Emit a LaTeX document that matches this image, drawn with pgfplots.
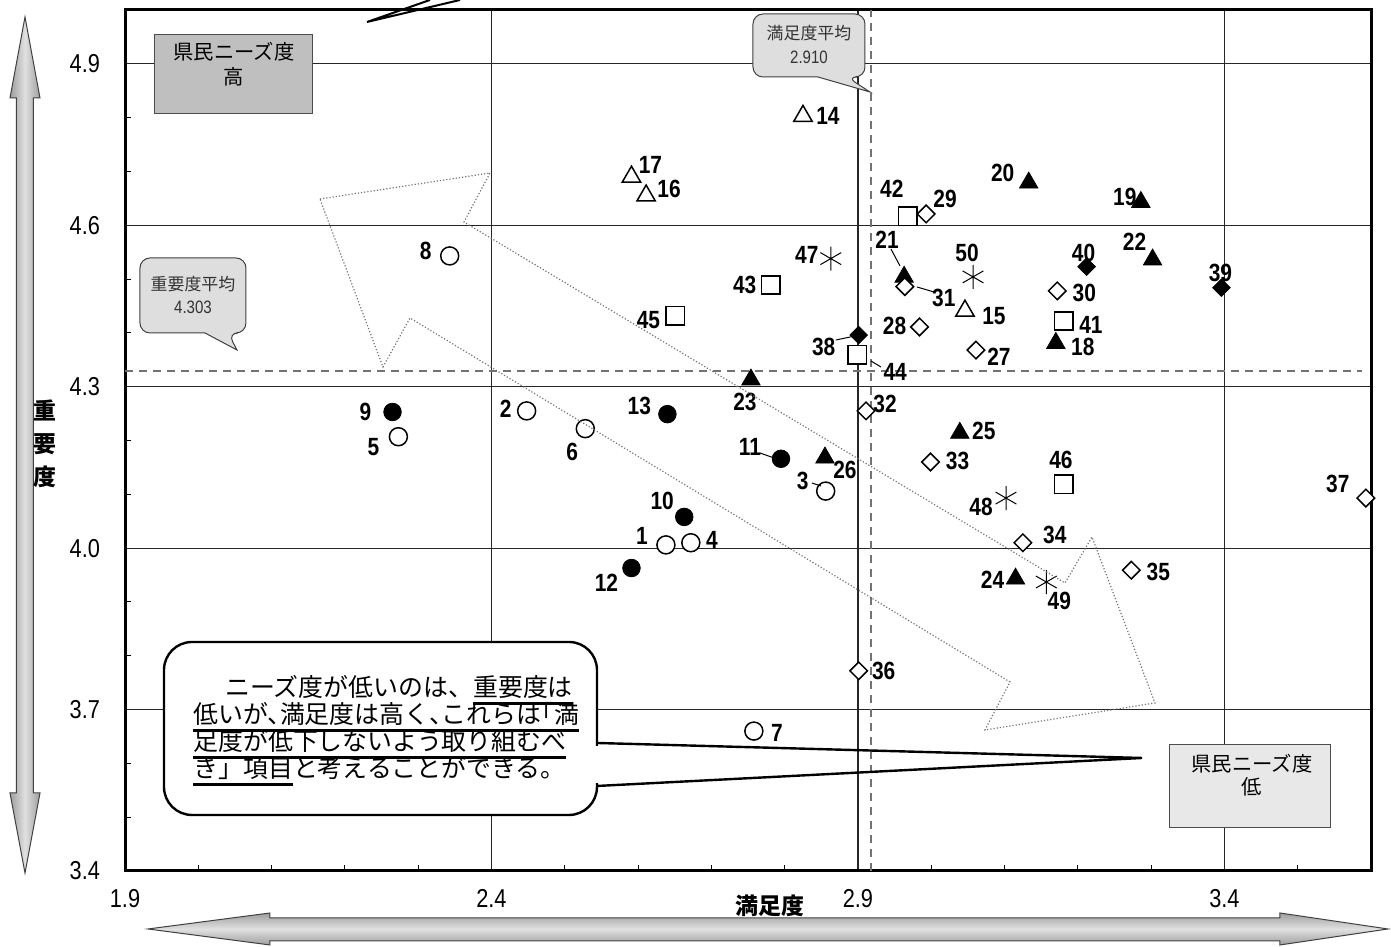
\documentclass[border=0pt]{standalone}
\usepackage{pgfplots}
\pgfplotsset{compat=1.18}
\usepackage{pgfplotstable}
\usepackage{fontspec}
\setmainfont{Liberation Sans}
\newfontfamily\nar[FakeStretch=0.84]{Liberation Sans}
\newfontfamily\jp{Noto Sans CJK JP}
\newfontfamily\jph[RawFeature=+halt]{Noto Sans CJK JP}
\newcommand\ul[1]{\vtop{\hbox{#1}\kern1.6bp\hrule height 1.2bp}}

% columns: x y label, then label offset dx dy in px (dy up)
\pgfplotstableread{
x y lab dx dy
2.638 4.006 1 -24 9
2.448 4.255 2 -21 2
2.856 4.106 3 -23 10
2.672 4.010 4 21 3
2.273 4.207 5 -25 -10
2.528 4.222 6 -13 -23
2.758 3.660 7 23 -2
2.343 4.543 8 -24 5
}\tOC
\pgfplotstableread{
x y lab dx dy
2.265 4.253 9 -27 0
2.663 4.058 10 -22 16
2.795 4.166 11 -31 12
2.591 3.963 12 -25 -15
2.640 4.249 13 -28 8
}\tFC
\pgfplotstableread{
x y lab dx dy
2.825 4.803 14 25 0
3.046 4.441 15 29 -5
2.611 4.655 16 23 7
2.591 4.690 17 19 12
}\tOT
\pgfplotstableread{
x y lab dx dy
3.170 4.381 18 27 -4
3.286 4.643 19 -16 5
3.133 4.679 20 -26 10
2.963 4.504 21 -17 37
3.302 4.536 22 -18 18
2.754 4.313 23 -6 -22
3.115 3.943 24 -23 -1
3.039 4.214 25 24 2
2.855 4.168 26 20 -12
}\tFT
\pgfplotstableread{
x y lab dx dy
3.061 4.368 27 23 -7
2.984 4.411 28 -25 1
2.993 4.621 29 19 15
3.172 4.478 30 27 -2
2.964 4.486 31 39 -11
2.911 4.255 32 19 7
2.999 4.160 33 27 1
3.125 4.010 34 32 8
3.273 3.959 35 27 -2
2.901 3.772 36 25 0
3.593 4.093 37 -28 14
}\tOD
\pgfplotstableread{
x y lab dx dy
2.901 4.396 38 -35 -12
3.396 4.484 39 -1 15
3.212 4.523 40 -3 14
}\tFD
\pgfplotstableread{
x y lab dx dy
3.181 4.422 41 27 -4
2.968 4.617 42 -16 27
2.781 4.489 43 -26 0
2.899 4.359 44 38 -17
2.651 4.432 45 -27 -4
3.181 4.119 46 -3 24
}\tOS
\pgfplotstableread{
x y lab dx dy
2.863 4.538 47 -24 4
3.102 4.093 48 -25 -9
3.157 3.937 49 13 -19
3.057 4.504 50 -6 24
}\tAS

\begin{document}
\begin{tikzpicture}
\path[use as bounding box] (-62.5bp,-38bp) rectangle (633bp,435.5bp);
\begin{axis}[
  scale only axis, width=623bp, height=430.5bp,
  xmin=1.9, xmax=3.6, ymin=3.4, ymax=5.0,
  xtick={1.9,2.4,2.9,3.4}, ytick={3.4,3.7,4.0,4.3,4.6,4.9},
  minor xtick={2.0,2.1,2.2,2.3,2.5,2.6,2.7,2.8,3.0,3.1,3.2,3.3,3.5},
  minor ytick={3.5,3.6,3.8,3.9,4.1,4.2,4.4,4.5,4.7,4.8},
  tick align=inside, tick pos=left,
  major tick length=0pt, minor tick length=3bp,
  minor tick style={black, line width=0.5bp},
  xmajorgrids, ymajorgrids,
  major grid style={black!85, line width=0.6bp},
  axis line style={line width=1.5bp},
  /pgf/number format/assume math mode=true,
  /pgf/number format/.cd, fixed, fixed zerofill, precision=1, /tikz/.cd,
  xticklabel style={font=\nar\fontsize{13}{14}\selectfont, yshift=-5.5bp},
  yticklabel style={font=\nar\fontsize{13}{14}\selectfont, xshift=-9bp},
  clip=false,
  lbl/.style={only marks, point meta=explicit symbolic, nodes near coords,
    visualization depends on={\thisrow{dx}\as\pdx},
    visualization depends on={\thisrow{dy}\as\pdy},
    every node near coord/.append style={anchor=center, inner sep=0pt,
      xshift={0.5bp*\pdx}, yshift={0.5bp*\pdy}, text=black,
      font=\nar\bfseries\fontsize{12.5}{13}\selectfont}},
]
\addplot[black!55, line width=1.1bp, dash pattern=on 4bp off 3bp]
  coordinates {(2.918,3.4) (2.918,5.0)};
\addplot[black!55, line width=1.1bp, dash pattern=on 4bp off 3bp]
  coordinates {(1.9,4.329) (3.588,4.329)};
\addplot[lbl, mark=*, mark size=4.5bp, mark options={draw=black, fill=white, line width=0.75bp}]
  table[x=x, y=y, meta=lab] {\tOC};
\addplot[lbl, mark=*, mark size=4.4bp, mark options={draw=black, fill=black}]
  table[x=x, y=y, meta=lab] {\tFC};
\addplot[lbl, mark=triangle*, mark size=5.3bp, mark options={draw=black, fill=white, line width=0.75bp}]
  table[x=x, y=y, meta=lab] {\tOT};
\addplot[lbl, mark=triangle*, mark size=5.3bp, mark options={draw=black, fill=black}]
  table[x=x, y=y, meta=lab] {\tFT};
\addplot[lbl, mark=square*, mark size=3.1bp, mark options={rotate=45, draw=black, fill=white, line width=0.75bp}]
  table[x=x, y=y, meta=lab] {\tOD};
\addplot[lbl, mark=square*, mark size=3.1bp, mark options={rotate=45, draw=black, fill=black}]
  table[x=x, y=y, meta=lab] {\tFD};
\addplot[lbl, mark=square*, mark size=4.6bp, mark options={draw=black, fill=white, line width=0.75bp}]
  table[x=x, y=y, meta=lab] {\tOS};
\addplot[lbl, mark=asterisk, mark size=6bp, mark options={draw=black, line width=0.5bp}]
  table[x=x, y=y, meta=lab] {\tAS};
\end{axis}

\begin{scope}[x=0.5bp, y=-0.5bp, shift={(-62.5bp,435.5bp)}]
% double arrows outside the axis
\draw[black!75, line width=0.5bp, left color=black!38, right color=black!38, middle color=black!12]
  (25,17) -- (40,98) -- (33.5,98) -- (33.5,793) -- (40,793) -- (25,873)
  -- (10,793) -- (16.5,793) -- (16.5,98) -- (10,98) -- cycle;
\draw[black!75, line width=0.5bp, top color=black!38, bottom color=black!38, middle color=black!12]
  (148,929) -- (270,913) -- (270,918) -- (1280,918) -- (1280,913) -- (1388,929)
  -- (1280,945) -- (1280,941) -- (270,941) -- (270,945) -- cycle;
\node[font=\jp\bfseries\fontsize{11.5}{16.5}\selectfont, align=center] at (45,444) {重\\要\\度};
\node[font=\jp\bfseries\fontsize{11.5}{12}\selectfont] at (770,906) {満足度};
% quadrant boxes
\draw[black!70, line width=0.5bp, fill=black!25] (155,35) rectangle (313,114);
\node[font=\jp\fontsize{10.2}{12}\selectfont] at (234,52) {県民ニーズ度};
\node[font=\jp\fontsize{10.2}{12}\selectfont] at (234,77) {高};
\draw[black!70, line width=0.5bp, fill=black!9] (1170,745) rectangle (1331,828);
\node[font=\jp\fontsize{10.2}{12}\selectfont] at (1252,764) {県民ニーズ度};
\node[font=\jp\fontsize{10.2}{12}\selectfont] at (1252,787) {低};
% mean callouts
\draw[black!75, line width=0.5bp, fill=black!13, rounded corners=5bp]
  (818,77) -- (753,77) -- (753,14) -- (865,14) -- (865,77) -- (847,77)
  [sharp corners] -- (870,92) -- cycle;
\node[text=black!80, font=\jp\fontsize{8.5}{10}\selectfont] at (809,33) {満足度平均};
\node[text=black!80, font=\nar\fontsize{9}{10}\selectfont] at (809,57) {2.910};
\draw[black!75, line width=0.5bp, fill=black!13, rounded corners=5bp]
  (205,333) -- (140,333) -- (140,258) -- (246,258) -- (246,333) -- (228,333)
  [sharp corners] -- (237,350) -- cycle;
\node[text=black!80, font=\jp\fontsize{8.5}{10}\selectfont] at (193,284) {重要度平均};
\node[text=black!80, font=\nar\fontsize{9}{10}\selectfont] at (193,307) {4.303};
% dotted double arrow
\draw[black!55, line width=0.6bp, densely dotted]
  (320,199) -- (490,173) -- (464,222) -- (1065,583) -- (1092,537) -- (1155,703)
  -- (985,730) -- (1010,682) -- (410,318) -- (383,367) -- cycle;
% wedge at the top
\draw[line width=1bp] (430,0) -- (367,22) -- (460,0);
% leader lines
\draw[line width=0.5bp] (812,483) -- (821,486);
\draw[line width=0.5bp] (760,453) -- (774,458);
\draw[line width=0.5bp] (891,249) -- (900,266);
\draw[line width=0.5bp] (917,287) -- (934,292);
\draw[line width=0.5bp] (836,340) -- (855,336);
\draw[line width=0.5bp] (871,361) -- (881,367);
% comment callout
\draw[line width=1.2bp, fill=white, rounded corners=14bp] (164,642) rectangle (597,815);
\fill[white] (594,746) rectangle (600,783);
\draw[line width=1.2bp] (597,743) -- (1142,758) -- (597,786);
\node[anchor=base west, inner sep=0pt, font=\jp\fontsize{12.5}{13}\selectfont] at (193,697)
  {\hspace*{16bp}ニーズ度が低いのは、\ul{重要度は}};
\node[anchor=base west, inner sep=0pt, font=\jph\fontsize{12.5}{13}\selectfont] at (193,724)
  {\ul{低いが、満足度は高く、これらは「満}};
\node[anchor=base west, inner sep=0pt, font=\jp\fontsize{12.5}{13}\selectfont] at (193,751)
  {\ul{足度が低下しないよう取り組むべ}};
\node[anchor=base west, inner sep=0pt, font=\jp\fontsize{12.5}{13}\selectfont] at (193,778)
  {\ul{き」項目}と考えることができる。};
\end{scope}
\end{tikzpicture}
\end{document}
